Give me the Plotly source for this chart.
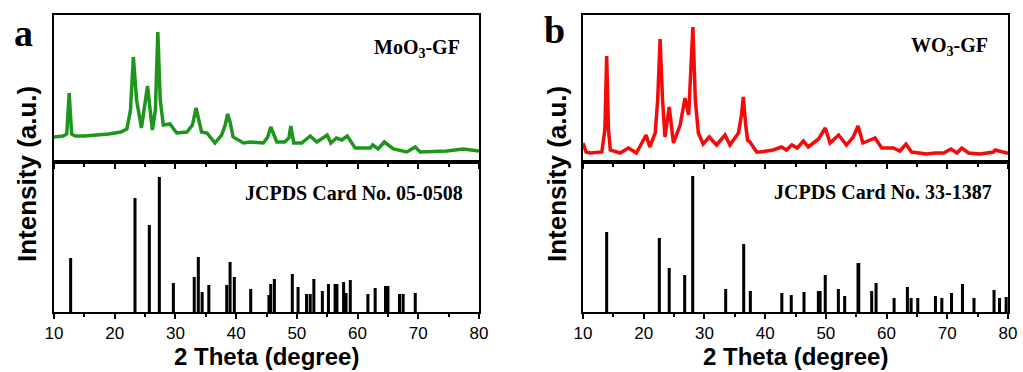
import plotly.graph_objects as go

# ---- data ----
moo3_x = [10.0, 11.5, 12.1, 12.5, 12.9, 13.5, 15.0, 17.0, 19.0, 21.0, 22.0, 22.6, 23.07, 23.6, 24.4, 25.4,
          26.2, 26.7, 27.1, 27.5, 28.0, 29.1, 30.2, 31.9, 32.8, 33.4, 34.0, 34.3, 35.2, 36.5, 37.6, 38.2,
          38.6, 39.0, 39.5, 41.2, 42.3, 44.5, 45.2, 45.7, 46.7, 48.0, 48.7, 49.0, 49.5, 50.8, 52.2, 53.3,
          55.0, 55.6, 56.5, 57.4, 58.3, 59.6, 62.1, 62.5, 63.4, 64.4, 65.9, 68.1, 69.5, 70.3, 74.7, 77.4, 80.0]
moo3_y = [25, 26, 28, 69, 28, 26, 26, 27, 28, 30, 33, 52, 105, 62, 34, 76,
          32, 52, 130, 62, 37, 38, 29, 30, 37, 54, 37, 30, 29, 19, 27, 37,
          48, 40, 25, 19, 20, 19, 25, 35, 20, 20, 24, 36, 19, 19, 26, 20,
          27, 19, 24, 22, 26, 14, 14, 17, 13, 20, 13, 10, 15, 10, 11, 13, 11]

wo3_x = [10.0, 10.5, 11.2, 13.1, 13.6, 13.9, 14.2, 14.5, 16.1, 17.5, 18.8, 20.4, 21.0, 21.9, 22.3, 22.7,
         23.1, 23.5, 24.2, 24.9, 26.0, 26.8, 27.4, 27.8, 28.1, 28.5, 29.0, 29.8, 30.8, 32.0, 33.4, 34.2,
         35.6, 36.1, 36.4, 36.8, 37.1, 37.5, 38.6, 39.2, 41.3, 42.7, 43.5, 44.4, 45.3, 46.3, 47.1, 48.8,
         49.9, 50.7, 52.1, 53.4, 54.5, 55.3, 56.1, 57.3, 58.1, 59.2, 61.1, 62.2, 63.2, 64.1, 66.6, 68.0,
         69.4, 70.6, 71.6, 72.4, 73.5, 75.4, 77.6, 77.9, 79.8, 80.0]
wo3_y = [19, 10, 9, 10, 32, 106, 32, 12, 9, 14, 9, 27, 15, 29, 62, 123,
         62, 25, 55, 19, 37, 64, 47, 102, 135, 62, 29, 18, 25, 17, 27, 17,
         29, 47, 65, 37, 22, 20, 10, 10, 12, 15, 12, 17, 14, 21, 15, 23,
         34, 19, 27, 17, 25, 36, 19, 22, 24, 14, 14, 11, 18, 10, 8, 9,
         9, 13, 9, 14, 9, 8, 10, 12, 9, 10]

card_a_x = [12.74, 23.34, 25.7, 27.35, 29.66, 33.1, 33.77, 34.4, 35.5, 38.45, 39.0, 39.7, 42.4, 45.4,
            45.7, 46.3, 49.25, 50.2, 51.6, 52.2, 52.8, 54.2, 55.2, 56.3, 56.6, 57.7, 58.1, 58.8, 61.7,
            62.9, 64.6, 65.0, 66.9, 67.5, 69.5]
card_a_y = [54, 114, 87, 135, 29, 35, 55, 20, 27, 27, 50, 35, 23, 17,
            28, 33, 38, 25, 18, 18, 33, 21, 28, 28, 28, 30, 19, 32, 18,
            24, 26, 26, 18, 18, 19]

card_b_x = [13.9, 22.57, 24.2, 26.75, 28.07, 33.5, 36.47, 37.56, 42.75, 44.3, 46.4, 48.77, 49.05, 49.9,
            52.06, 53.1, 55.3, 55.42, 57.55, 58.27, 61.24, 63.43, 64.04, 65.14, 68.05, 69.1, 70.7,
            72.5, 74.4, 77.7, 78.6, 79.7]
card_b_y = [80, 74, 44, 37, 136, 23, 68, 21, 19, 17, 20, 21, 21, 37,
            23, 16, 49, 49, 21, 29, 14, 25, 14, 14, 16, 14, 19,
            28, 14, 22, 14, 15]

x_ticks = [10, 20, 30, 40, 50, 60, 70, 80]

GREEN = "rgb(30,150,30)"
RED = "rgb(245,10,10)"

fig = go.Figure()

fig.add_trace(go.Scatter(x=moo3_x, y=moo3_y, mode="lines", line=dict(color=GREEN, width=3.5),
                         xaxis="x", yaxis="y", showlegend=False))
fig.add_trace(go.Bar(x=card_a_x, y=card_a_y, width=0.5, marker=dict(color="black", line=dict(width=0)),
                     xaxis="x2", yaxis="y2", showlegend=False))
fig.add_trace(go.Scatter(x=wo3_x, y=wo3_y, mode="lines", line=dict(color=RED, width=3.5),
                         xaxis="x3", yaxis="y3", showlegend=False))
fig.add_trace(go.Bar(x=card_b_x, y=card_b_y, width=0.5, marker=dict(color="black", line=dict(width=0)),
                     xaxis="x4", yaxis="y4", showlegend=False))

W, H = 1023, 372
def px(x):
    return x / W
def py(y):
    return 1 - y / H

dom_a = [px(54), px(479)]
dom_b = [px(583), px(1008)]
dom_top = [py(162), py(15)]
dom_bot = [py(312), py(162)]

tickfont = dict(family="Liberation Sans, Arial", size=17, color="black")
axis_common = dict(range=[10, 80], showgrid=False, zeroline=False, showline=True, linecolor="black",
                   linewidth=2, mirror=True, tickmode="array", tickvals=x_ticks, ticks="outside",
                   ticklen=5, tickwidth=2, tickcolor="black", automargin=False,
                   minor=dict(dtick=5, tick0=10, ticks="outside", ticklen=3, tickwidth=2, tickcolor="black"))

def top_x(domain, anchor):
    d = dict(axis_common)
    d.update(domain=domain, anchor=anchor, showticklabels=False)
    return d

def bot_x(domain, anchor):
    d = dict(axis_common)
    d.update(domain=domain, anchor=anchor, showticklabels=True, tickfont=tickfont)
    return d

def yax(domain, anchor, rng):
    return dict(domain=domain, anchor=anchor, range=rng, showgrid=False, zeroline=False, showline=True,
                linecolor="black", linewidth=2, mirror=True, showticklabels=False, ticks="", automargin=False)

fig.update_layout(
    width=W, height=H, margin=dict(l=0, r=0, t=0, b=0, autoexpand=False),
    paper_bgcolor="white", plot_bgcolor="white",
    xaxis=top_x(dom_a, "y"), yaxis=yax(dom_top, "x", [0, 147]),
    xaxis2=bot_x(dom_a, "y2"), yaxis2=yax(dom_bot, "x2", [0, 150]),
    xaxis3=top_x(dom_b, "y3"), yaxis3=yax(dom_top, "x3", [0, 147]),
    xaxis4=bot_x(dom_b, "y4"), yaxis4=yax(dom_bot, "x4", [0, 150]),
    barmode="overlay",
)

serif = "Liberation Serif, Times New Roman"
sans = "Liberation Sans, Arial"
ann = []
def add_text(text, x, y, size, family, angle=0):
    ann.append(dict(text=text, x=px(x), y=py(y), xref="paper", yref="paper", showarrow=False,
                    xanchor="center", yanchor="middle", textangle=angle,
                    font=dict(family=family, size=size, color="black")))

add_text("<b>a</b>", 23, 33, 38, serif)
add_text("<b>b</b>", 554, 30, 38, serif)
add_text("<b>MoO<sub>3</sub>-GF</b>", 417, 48, 20, serif)
add_text("<b>WO<sub>3</sub>-GF</b>", 949, 46, 20, serif)
add_text("<b>JCPDS Card No. 05-0508</b>", 354, 193, 20, serif)
add_text("<b>JCPDS Card No. 33-1387</b>", 883, 192, 20, serif)
add_text("<b>Intensity (a.u.)</b>", 27, 174, 26, sans, -90)
add_text("<b>Intensity (a.u.)</b>", 557, 174, 26, sans, -90)
add_text("<b>2 Theta (degree)</b>", 266, 356, 24, sans)
add_text("<b>2 Theta (degree)</b>", 795, 356, 24, sans)
fig.update_layout(annotations=ann)

fig.write_html("out.html")
